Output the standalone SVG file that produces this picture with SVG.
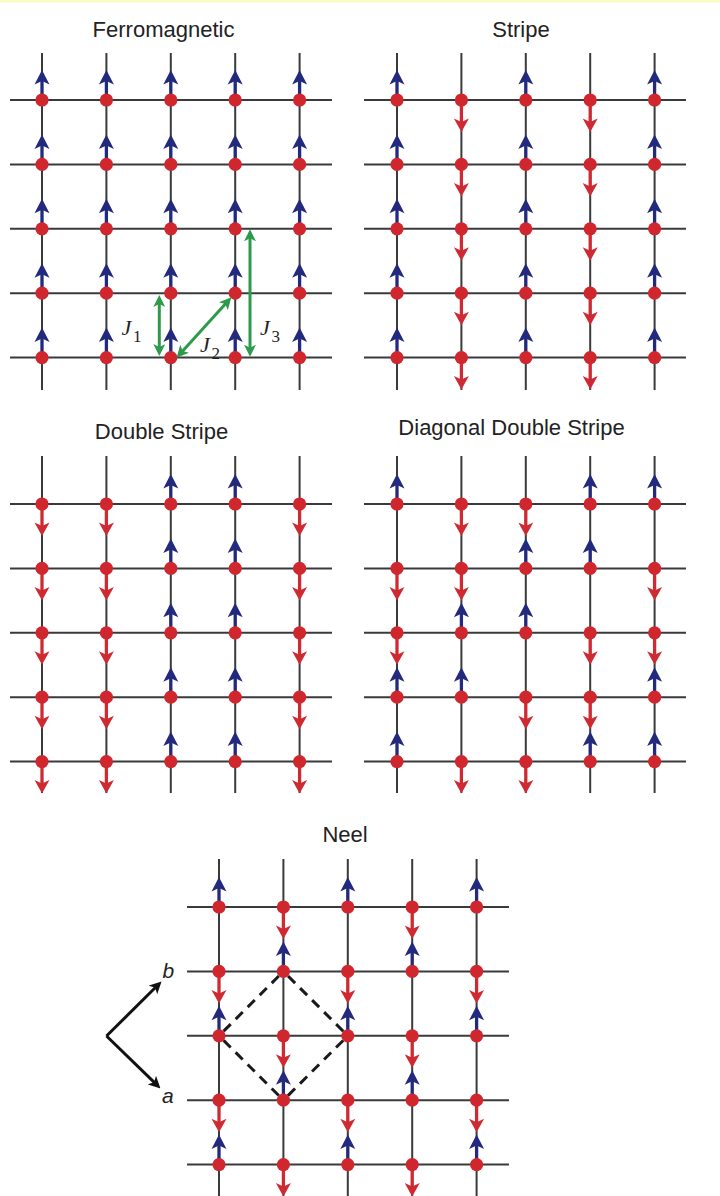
<svg xmlns="http://www.w3.org/2000/svg" xmlns:xlink="http://www.w3.org/1999/xlink" width="720" height="1196" viewBox="0 0 720 1196">
<style>
.ttl{font-family:"Liberation Sans",Arial,sans-serif;font-size:22px;fill:#222;text-anchor:middle}
.grid line{stroke:#3a3a3a;stroke-width:2}
.bs{stroke:#232a7d;stroke-width:3.3}
.rs{stroke:#cf2a32;stroke-width:3.3}
.jl{font-family:"Liberation Serif","Times New Roman",serif;font-size:22px;fill:#222}
.ji{font-style:italic}
.js{font-size:17px}
.ax{font-family:"Liberation Sans",Arial,sans-serif;font-size:21px;font-style:italic;fill:#222}
.garrow{stroke:#2d9b4b;stroke-width:3;fill:none;marker-start:url(#gh);marker-end:url(#gh)}
.karrow{stroke:#111;stroke-width:3;fill:none;marker-end:url(#kh)}
.dash{stroke:#1a1a1a;stroke-width:3;fill:none;stroke-dasharray:10 7;stroke-dashoffset:10.5}
</style>
<defs>
<g id="U"><line class="bs" x1="0" y1="0" x2="0" y2="-19"/><path d="M0,-30 L7.5,-15.5 L0,-19 L-7.5,-15.5 Z" fill="#232a7d"/><circle r="6.6" fill="#d0262e"/></g>
<g id="D"><line class="rs" x1="0" y1="0" x2="0" y2="22"/><path d="M0,32 L7.5,18.5 L0,22 L-7.5,18.5 Z" fill="#cf2a32"/><circle r="6.6" fill="#d0262e"/></g>
<marker id="gh" viewBox="0 0 12 12" refX="8" refY="6" markerWidth="12" markerHeight="12" markerUnits="userSpaceOnUse" orient="auto-start-reverse"><path d="M0,0 L12,6 L0,12 L3,6 Z" fill="#2d9b4b"/></marker>
<marker id="kh" viewBox="0 0 12 12" refX="8" refY="6" markerWidth="12" markerHeight="12" markerUnits="userSpaceOnUse" orient="auto"><path d="M0,0 L12,6 L0,12 L3,6 Z" fill="#111"/></marker>
</defs>
<rect x="0" y="0" width="720" height="1196" fill="#ffffff"/>
<rect x="0" y="0" width="720" height="2.5" fill="#fbfbc4"/>

<g id="titles">
<text class="ttl" x="163.5" y="37">Ferromagnetic</text>
<text class="ttl" x="521" y="37">Stripe</text>
<text class="ttl" x="161.5" y="439">Double Stripe</text>
<text class="ttl" x="511.5" y="435">Diagonal Double Stripe</text>
<text class="ttl" x="345" y="842">Neel</text>
</g>

<g id="lattice-lines" class="grid">
<!-- Ferromagnetic -->
<line x1="10" y1="100" x2="332" y2="100"/><line x1="10" y1="164.4" x2="332" y2="164.4"/><line x1="10" y1="228.8" x2="332" y2="228.8"/><line x1="10" y1="293.2" x2="332" y2="293.2"/><line x1="10" y1="357.6" x2="332" y2="357.6"/>
<line x1="42" y1="53" x2="42" y2="390"/><line x1="106.4" y1="53" x2="106.4" y2="390"/><line x1="170.8" y1="53" x2="170.8" y2="390"/><line x1="235.2" y1="53" x2="235.2" y2="390"/><line x1="299.6" y1="53" x2="299.6" y2="390"/>
<!-- Stripe -->
<line x1="364" y1="100" x2="686" y2="100"/><line x1="364" y1="164.4" x2="686" y2="164.4"/><line x1="364" y1="228.8" x2="686" y2="228.8"/><line x1="364" y1="293.2" x2="686" y2="293.2"/><line x1="364" y1="357.6" x2="686" y2="357.6"/>
<line x1="397" y1="53" x2="397" y2="390"/><line x1="461.4" y1="53" x2="461.4" y2="390"/><line x1="525.8" y1="53" x2="525.8" y2="390"/><line x1="590.2" y1="53" x2="590.2" y2="390"/><line x1="654.6" y1="53" x2="654.6" y2="390"/>
<!-- Double Stripe -->
<line x1="10" y1="504" x2="332" y2="504"/><line x1="10" y1="568.4" x2="332" y2="568.4"/><line x1="10" y1="632.8" x2="332" y2="632.8"/><line x1="10" y1="697.2" x2="332" y2="697.2"/><line x1="10" y1="761.6" x2="332" y2="761.6"/>
<line x1="42" y1="456" x2="42" y2="793"/><line x1="106.4" y1="456" x2="106.4" y2="793"/><line x1="170.8" y1="456" x2="170.8" y2="793"/><line x1="235.2" y1="456" x2="235.2" y2="793"/><line x1="299.6" y1="456" x2="299.6" y2="793"/>
<!-- Diagonal Double Stripe -->
<line x1="364" y1="504" x2="686" y2="504"/><line x1="364" y1="568.4" x2="686" y2="568.4"/><line x1="364" y1="632.8" x2="686" y2="632.8"/><line x1="364" y1="697.2" x2="686" y2="697.2"/><line x1="364" y1="761.6" x2="686" y2="761.6"/>
<line x1="397" y1="456" x2="397" y2="793"/><line x1="461.4" y1="456" x2="461.4" y2="793"/><line x1="525.8" y1="456" x2="525.8" y2="793"/><line x1="590.2" y1="456" x2="590.2" y2="793"/><line x1="654.6" y1="456" x2="654.6" y2="793"/>
<!-- Neel -->
<line x1="187" y1="907" x2="509" y2="907"/><line x1="187" y1="971.4" x2="509" y2="971.4"/><line x1="187" y1="1035.8" x2="509" y2="1035.8"/><line x1="187" y1="1100.2" x2="509" y2="1100.2"/><line x1="187" y1="1164.6" x2="509" y2="1164.6"/>
<line x1="219" y1="859" x2="219" y2="1196"/><line x1="283.4" y1="859" x2="283.4" y2="1196"/><line x1="347.8" y1="859" x2="347.8" y2="1196"/><line x1="412.2" y1="859" x2="412.2" y2="1196"/><line x1="476.6" y1="859" x2="476.6" y2="1196"/>
</g>

<g id="labels">
<text class="jl"><tspan class="ji" x="121.5" y="335">J</tspan><tspan class="js" x="133" y="342">1</tspan></text>
<text class="jl"><tspan class="ji" x="200" y="352">J</tspan><tspan class="js" x="211.5" y="358.5">2</tspan></text>
<text class="jl"><tspan class="ji" x="260" y="335">J</tspan><tspan class="js" x="271.5" y="342">3</tspan></text>
<text class="ax" x="162.5" y="978">b</text>
<text class="ax" x="162" y="1103">a</text>
</g>

<g id="ferromagnetic">
<g id="fm-r0c0" transform="translate(42,100)"><use href="#U"/></g><g id="fm-r0c1" transform="translate(106.4,100)"><use href="#U"/></g><g id="fm-r0c2" transform="translate(170.8,100)"><use href="#U"/></g><g id="fm-r0c3" transform="translate(235.2,100)"><use href="#U"/></g><g id="fm-r0c4" transform="translate(299.6,100)"><use href="#U"/></g>
<g id="fm-r1c0" transform="translate(42,164.4)"><use href="#U"/></g><g id="fm-r1c1" transform="translate(106.4,164.4)"><use href="#U"/></g><g id="fm-r1c2" transform="translate(170.8,164.4)"><use href="#U"/></g><g id="fm-r1c3" transform="translate(235.2,164.4)"><use href="#U"/></g><g id="fm-r1c4" transform="translate(299.6,164.4)"><use href="#U"/></g>
<g id="fm-r2c0" transform="translate(42,228.8)"><use href="#U"/></g><g id="fm-r2c1" transform="translate(106.4,228.8)"><use href="#U"/></g><g id="fm-r2c2" transform="translate(170.8,228.8)"><use href="#U"/></g><g id="fm-r2c3" transform="translate(235.2,228.8)"><use href="#U"/></g><g id="fm-r2c4" transform="translate(299.6,228.8)"><use href="#U"/></g>
<g id="fm-r3c0" transform="translate(42,293.2)"><use href="#U"/></g><g id="fm-r3c1" transform="translate(106.4,293.2)"><use href="#U"/></g><g id="fm-r3c2" transform="translate(170.8,293.2)"><use href="#U"/></g><g id="fm-r3c3" transform="translate(235.2,293.2)"><use href="#U"/></g><g id="fm-r3c4" transform="translate(299.6,293.2)"><use href="#U"/></g>
<g id="fm-r4c0" transform="translate(42,357.6)"><use href="#U"/></g><g id="fm-r4c1" transform="translate(106.4,357.6)"><use href="#U"/></g><g id="fm-r4c2" transform="translate(170.8,357.6)"><use href="#U"/></g><g id="fm-r4c3" transform="translate(235.2,357.6)"><use href="#U"/></g><g id="fm-r4c4" transform="translate(299.6,357.6)"><use href="#U"/></g>
</g>

<g id="stripe">
<g id="st-r0c0" transform="translate(397,100)"><use href="#U"/></g><g id="st-r0c1" transform="translate(461.4,100)"><use href="#D"/></g><g id="st-r0c2" transform="translate(525.8,100)"><use href="#U"/></g><g id="st-r0c3" transform="translate(590.2,100)"><use href="#D"/></g><g id="st-r0c4" transform="translate(654.6,100)"><use href="#U"/></g>
<g id="st-r1c0" transform="translate(397,164.4)"><use href="#U"/></g><g id="st-r1c1" transform="translate(461.4,164.4)"><use href="#D"/></g><g id="st-r1c2" transform="translate(525.8,164.4)"><use href="#U"/></g><g id="st-r1c3" transform="translate(590.2,164.4)"><use href="#D"/></g><g id="st-r1c4" transform="translate(654.6,164.4)"><use href="#U"/></g>
<g id="st-r2c0" transform="translate(397,228.8)"><use href="#U"/></g><g id="st-r2c1" transform="translate(461.4,228.8)"><use href="#D"/></g><g id="st-r2c2" transform="translate(525.8,228.8)"><use href="#U"/></g><g id="st-r2c3" transform="translate(590.2,228.8)"><use href="#D"/></g><g id="st-r2c4" transform="translate(654.6,228.8)"><use href="#U"/></g>
<g id="st-r3c0" transform="translate(397,293.2)"><use href="#U"/></g><g id="st-r3c1" transform="translate(461.4,293.2)"><use href="#D"/></g><g id="st-r3c2" transform="translate(525.8,293.2)"><use href="#U"/></g><g id="st-r3c3" transform="translate(590.2,293.2)"><use href="#D"/></g><g id="st-r3c4" transform="translate(654.6,293.2)"><use href="#U"/></g>
<g id="st-r4c0" transform="translate(397,357.6)"><use href="#U"/></g><g id="st-r4c1" transform="translate(461.4,357.6)"><use href="#D"/></g><g id="st-r4c2" transform="translate(525.8,357.6)"><use href="#U"/></g><g id="st-r4c3" transform="translate(590.2,357.6)"><use href="#D"/></g><g id="st-r4c4" transform="translate(654.6,357.6)"><use href="#U"/></g>
</g>

<g id="double-stripe">
<g id="ds-r0c0" transform="translate(42,504)"><use href="#D"/></g><g id="ds-r0c1" transform="translate(106.4,504)"><use href="#D"/></g><g id="ds-r0c2" transform="translate(170.8,504)"><use href="#U"/></g><g id="ds-r0c3" transform="translate(235.2,504)"><use href="#U"/></g><g id="ds-r0c4" transform="translate(299.6,504)"><use href="#D"/></g>
<g id="ds-r1c0" transform="translate(42,568.4)"><use href="#D"/></g><g id="ds-r1c1" transform="translate(106.4,568.4)"><use href="#D"/></g><g id="ds-r1c2" transform="translate(170.8,568.4)"><use href="#U"/></g><g id="ds-r1c3" transform="translate(235.2,568.4)"><use href="#U"/></g><g id="ds-r1c4" transform="translate(299.6,568.4)"><use href="#D"/></g>
<g id="ds-r2c0" transform="translate(42,632.8)"><use href="#D"/></g><g id="ds-r2c1" transform="translate(106.4,632.8)"><use href="#D"/></g><g id="ds-r2c2" transform="translate(170.8,632.8)"><use href="#U"/></g><g id="ds-r2c3" transform="translate(235.2,632.8)"><use href="#U"/></g><g id="ds-r2c4" transform="translate(299.6,632.8)"><use href="#D"/></g>
<g id="ds-r3c0" transform="translate(42,697.2)"><use href="#D"/></g><g id="ds-r3c1" transform="translate(106.4,697.2)"><use href="#D"/></g><g id="ds-r3c2" transform="translate(170.8,697.2)"><use href="#U"/></g><g id="ds-r3c3" transform="translate(235.2,697.2)"><use href="#U"/></g><g id="ds-r3c4" transform="translate(299.6,697.2)"><use href="#D"/></g>
<g id="ds-r4c0" transform="translate(42,761.6)"><use href="#D"/></g><g id="ds-r4c1" transform="translate(106.4,761.6)"><use href="#D"/></g><g id="ds-r4c2" transform="translate(170.8,761.6)"><use href="#U"/></g><g id="ds-r4c3" transform="translate(235.2,761.6)"><use href="#U"/></g><g id="ds-r4c4" transform="translate(299.6,761.6)"><use href="#D"/></g>
</g>

<g id="diagonal-double-stripe">
<g id="dd-r0c0" transform="translate(397,504)"><use href="#U"/></g><g id="dd-r0c1" transform="translate(461.4,504)"><use href="#D"/></g><g id="dd-r0c2" transform="translate(525.8,504)"><use href="#D"/></g><g id="dd-r0c3" transform="translate(590.2,504)"><use href="#U"/></g><g id="dd-r0c4" transform="translate(654.6,504)"><use href="#U"/></g>
<g id="dd-r1c0" transform="translate(397,568.4)"><use href="#D"/></g><g id="dd-r1c1" transform="translate(461.4,568.4)"><use href="#D"/></g><g id="dd-r1c2" transform="translate(525.8,568.4)"><use href="#U"/></g><g id="dd-r1c3" transform="translate(590.2,568.4)"><use href="#U"/></g><g id="dd-r1c4" transform="translate(654.6,568.4)"><use href="#D"/></g>
<g id="dd-r2c0" transform="translate(397,632.8)"><use href="#D"/></g><g id="dd-r2c1" transform="translate(461.4,632.8)"><use href="#U"/></g><g id="dd-r2c2" transform="translate(525.8,632.8)"><use href="#U"/></g><g id="dd-r2c3" transform="translate(590.2,632.8)"><use href="#D"/></g><g id="dd-r2c4" transform="translate(654.6,632.8)"><use href="#D"/></g>
<g id="dd-r3c0" transform="translate(397,697.2)"><use href="#U"/></g><g id="dd-r3c1" transform="translate(461.4,697.2)"><use href="#U"/></g><g id="dd-r3c2" transform="translate(525.8,697.2)"><use href="#D"/></g><g id="dd-r3c3" transform="translate(590.2,697.2)"><use href="#D"/></g><g id="dd-r3c4" transform="translate(654.6,697.2)"><use href="#U"/></g>
<g id="dd-r4c0" transform="translate(397,761.6)"><use href="#U"/></g><g id="dd-r4c1" transform="translate(461.4,761.6)"><use href="#D"/></g><g id="dd-r4c2" transform="translate(525.8,761.6)"><use href="#D"/></g><g id="dd-r4c3" transform="translate(590.2,761.6)"><use href="#U"/></g><g id="dd-r4c4" transform="translate(654.6,761.6)"><use href="#U"/></g>
</g>

<g id="neel">
<g id="ne-r0c0" transform="translate(219,907)"><use href="#U"/></g><g id="ne-r0c1" transform="translate(283.4,907)"><use href="#D"/></g><g id="ne-r0c2" transform="translate(347.8,907)"><use href="#U"/></g><g id="ne-r0c3" transform="translate(412.2,907)"><use href="#D"/></g><g id="ne-r0c4" transform="translate(476.6,907)"><use href="#U"/></g>
<g id="ne-r1c0" transform="translate(219,971.4)"><use href="#D"/></g><g id="ne-r1c1" transform="translate(283.4,971.4)"><use href="#U"/></g><g id="ne-r1c2" transform="translate(347.8,971.4)"><use href="#D"/></g><g id="ne-r1c3" transform="translate(412.2,971.4)"><use href="#U"/></g><g id="ne-r1c4" transform="translate(476.6,971.4)"><use href="#D"/></g>
<g id="ne-r2c0" transform="translate(219,1035.8)"><use href="#U"/></g><g id="ne-r2c1" transform="translate(283.4,1035.8)"><use href="#D"/></g><g id="ne-r2c2" transform="translate(347.8,1035.8)"><use href="#U"/></g><g id="ne-r2c3" transform="translate(412.2,1035.8)"><use href="#D"/></g><g id="ne-r2c4" transform="translate(476.6,1035.8)"><use href="#U"/></g>
<g id="ne-r3c0" transform="translate(219,1100.2)"><use href="#D"/></g><g id="ne-r3c1" transform="translate(283.4,1100.2)"><use href="#U"/></g><g id="ne-r3c2" transform="translate(347.8,1100.2)"><use href="#D"/></g><g id="ne-r3c3" transform="translate(412.2,1100.2)"><use href="#U"/></g><g id="ne-r3c4" transform="translate(476.6,1100.2)"><use href="#D"/></g>
<g id="ne-r4c0" transform="translate(219,1164.6)"><use href="#U"/></g><g id="ne-r4c1" transform="translate(283.4,1164.6)"><use href="#D"/></g><g id="ne-r4c2" transform="translate(347.8,1164.6)"><use href="#U"/></g><g id="ne-r4c3" transform="translate(412.2,1164.6)"><use href="#D"/></g><g id="ne-r4c4" transform="translate(476.6,1164.6)"><use href="#U"/></g>
</g>

<g id="connectors">
<line class="dash" x1="283.4" y1="971.4" x2="219" y2="1035.8"/>
<line class="dash" x1="219" y1="1035.8" x2="283.4" y2="1100.2"/>
<line class="dash" x1="283.4" y1="1100.2" x2="347.8" y2="1035.8"/>
<line class="dash" x1="347.8" y1="1035.8" x2="283.4" y2="971.4"/>
<line class="garrow" x1="159.3" y1="299" x2="159.3" y2="352"/>
<line class="garrow" x1="179.3" y1="354.7" x2="228.7" y2="300.3"/>
<line class="garrow" x1="250" y1="233.3" x2="250" y2="352.7"/>
<line class="karrow" x1="106.5" y1="1036" x2="158.7" y2="984.3"/>
<line class="karrow" x1="106.5" y1="1036" x2="157.6" y2="1085.7"/>
</g>
</svg>
